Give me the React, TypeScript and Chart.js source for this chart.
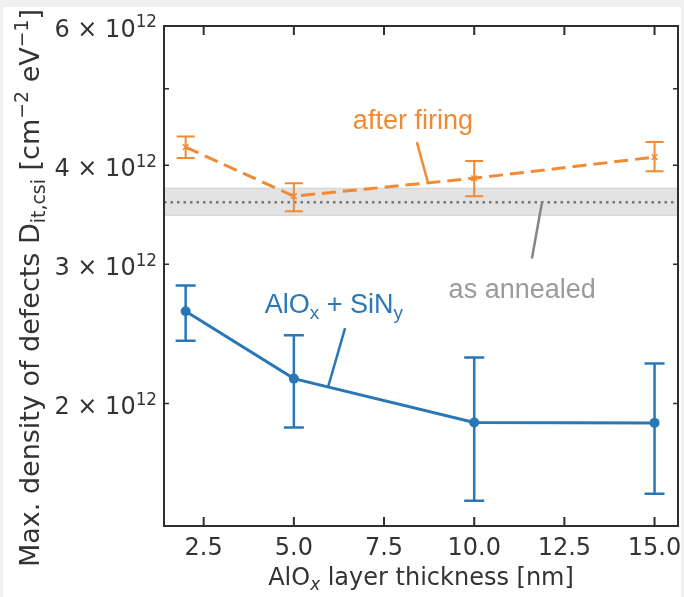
import React, { useEffect, useRef } from "react";
import { Chart, registerables } from "chart.js";

Chart.register(...registerables);

// AlOx layer thickness [nm]
const THICKNESS = [2, 5, 10, 15];

// AlOx + SiNy stack: maximum Dit with error range
const SINY_DIT = [2.615e12, 2.15e12, 1.892e12, 1.89e12];
const SINY_LOW = [2.4e12, 1.865e12, 1.507e12, 1.538e12];
const SINY_HIGH = [2.82e12, 2.44e12, 2.287e12, 2.247e12];

// after firing
const FIRED_DIT = [4.217e12, 3.656e12, 3.852e12, 4.097e12];
const FIRED_LOW = [4.085e12, 3.5e12, 3.656e12, 3.93e12];
const FIRED_HIGH = [4.35e12, 3.797e12, 4.05e12, 4.28e12];

// as annealed reference level and its spread
const ANNEALED_DIT = 3.593e12;
const ANNEALED_LOW = 3.458e12;
const ANNEALED_HIGH = 3.742e12;

// axis ticks
const X_TICKS = [2.5, 5, 7.5, 10, 12.5, 15];
const X_TICK_LABELS = ["2.5", "5.0", "7.5", "10.0", "12.5", "15.0"];
const Y_LABELED_TICKS = [2e12, 3e12, 4e12, 6e12];
const Y_TICK_MANTISSA = ["2", "3", "4", "6"];
const Y_MINOR_TICKS = [2e12, 3e12, 4e12, 5e12, 6e12];

const X_MIN = 1.4;
const X_MAX = 15.65;
const Y_MIN = 1.4e12;
const Y_MAX = 6e12;

const BLUE = "#2877b6";
const ORANGE = "#f28a34";
const GREY_TEXT = "#9b9b9b";
const AXIS = "#2e2e2e";

const DEJAVU = "'DejaVu Sans', sans-serif";
const ARIAL = "'Liberation Sans', Arial, sans-serif";

type Run = { t: string; sub?: boolean; sup?: boolean; italic?: boolean };

// callouts placed in data coordinates: text anchor (centre, baseline) and leader line
const CALLOUTS = [
  {
    runs: [{ t: "after firing" }] as Run[],
    color: ORANGE,
    lineColor: ORANGE,
    x: 8.3,
    y: 4.445e12,
    from: [8.41, 4.28e12],
    to: [8.72, 3.8e12],
  },
  {
    runs: [{ t: "as annealed" }] as Run[],
    color: GREY_TEXT,
    lineColor: "#858585",
    x: 11.33,
    y: 2.72e12,
    from: [11.6, 3.05e12],
    to: [11.88, ANNEALED_DIT],
  },
  {
    runs: [{ t: "AlO" }, { t: "x", sub: true }, { t: " + SiN" }, { t: "y", sub: true }] as Run[],
    color: BLUE,
    lineColor: BLUE,
    x: 6.11,
    y: 2.6e12,
    from: [6.42, 2.49e12],
    to: [5.95, 2.099e12],
  },
];

function drawRich(
  ctx: CanvasRenderingContext2D,
  runs: Run[],
  x: number,
  y: number,
  size: number,
  family: string,
  color: string,
  align: "left" | "center" | "right"
) {
  const parts = runs.map((r) => {
    const s = r.sub || r.sup ? size * 0.7 : size;
    const font = `${r.italic ? "italic " : ""}${s}px ${family}`;
    ctx.font = font;
    const w = ctx.measureText(r.t).width;
    const dy = r.sub ? size * 0.22 : r.sup ? -size * 0.4 : 0;
    return { r, font, w, dy };
  });
  const total = parts.reduce((a, p) => a + p.w, 0);
  let cx = align === "left" ? x : align === "center" ? x - total / 2 : x - total;
  ctx.fillStyle = color;
  ctx.textAlign = "left";
  ctx.textBaseline = "alphabetic";
  for (const p of parts) {
    ctx.font = p.font;
    ctx.fillText(p.r.t, cx, y + p.dy);
    cx += p.w;
  }
}

const decorations = {
  id: "decorations",
  beforeDraw(chart: any) {
    const { ctx, width, height } = chart;
    ctx.save();
    ctx.fillStyle = "#f0f0f0";
    ctx.fillRect(0, 0, width, height);
    ctx.fillStyle = "#ffffff";
    ctx.fillRect(3, 7, width - 6, height - 7);
    ctx.restore();
  },
  beforeDatasetsDraw(chart: any) {
    const { ctx, chartArea: a, scales } = chart;
    const xs = scales.x;
    const ys = scales.y;
    ctx.save();
    ctx.beginPath();
    ctx.rect(a.left, a.top, a.right - a.left, a.bottom - a.top);
    ctx.clip();

    // as-annealed spread band and mean level
    const bTop = ys.getPixelForValue(ANNEALED_HIGH);
    const bBot = ys.getPixelForValue(ANNEALED_LOW);
    ctx.fillStyle = "rgba(200,200,200,0.5)";
    ctx.fillRect(a.left, bTop, a.right - a.left, bBot - bTop);
    ctx.strokeStyle = "rgba(190,190,190,0.6)";
    ctx.lineWidth = 1;
    ctx.beginPath();
    ctx.moveTo(a.left, bTop);
    ctx.lineTo(a.right, bTop);
    ctx.moveTo(a.left, bBot);
    ctx.lineTo(a.right, bBot);
    ctx.stroke();

    const yMean = ys.getPixelForValue(ANNEALED_DIT);
    ctx.strokeStyle = "#767676";
    ctx.lineWidth = 2.5;
    ctx.setLineDash([2.5, 4]);
    ctx.beginPath();
    ctx.moveTo(a.left, yMean);
    ctx.lineTo(a.right, yMean);
    ctx.stroke();
    ctx.setLineDash([]);

    // error bars
    const bars = [
      { lo: SINY_LOW, hi: SINY_HIGH, color: BLUE, w: 2.5, cap: 10 },
      { lo: FIRED_LOW, hi: FIRED_HIGH, color: ORANGE, w: 2, cap: 9 },
    ];
    for (const b of bars) {
      ctx.strokeStyle = b.color;
      ctx.lineWidth = b.w;
      THICKNESS.forEach((t, i) => {
        const px = xs.getPixelForValue(t);
        const p1 = ys.getPixelForValue(b.lo[i]);
        const p2 = ys.getPixelForValue(b.hi[i]);
        ctx.beginPath();
        ctx.moveTo(px, p1);
        ctx.lineTo(px, p2);
        ctx.moveTo(px - b.cap, p1);
        ctx.lineTo(px + b.cap, p1);
        ctx.moveTo(px - b.cap, p2);
        ctx.lineTo(px + b.cap, p2);
        ctx.stroke();
      });
    }
    ctx.restore();
  },
  afterDraw(chart: any) {
    const { ctx, chartArea: a, scales } = chart;
    const xs = scales.x;
    const ys = scales.y;
    ctx.save();

    // callout leader lines and labels
    for (const c of CALLOUTS) {
      ctx.strokeStyle = c.lineColor;
      ctx.lineWidth = 2.5;
      ctx.beginPath();
      ctx.moveTo(xs.getPixelForValue(c.from[0]), ys.getPixelForValue(c.from[1]));
      ctx.lineTo(xs.getPixelForValue(c.to[0]), ys.getPixelForValue(c.to[1]));
      ctx.stroke();
      drawRich(ctx, c.runs, xs.getPixelForValue(c.x), ys.getPixelForValue(c.y), 27, ARIAL, c.color, "center");
    }

    // frame
    ctx.strokeStyle = AXIS;
    ctx.lineWidth = 2;
    ctx.strokeRect(a.left, a.top, a.right - a.left, a.bottom - a.top);

    // x ticks, top and bottom, pointing inwards
    ctx.lineWidth = 2;
    for (const t of X_TICKS) {
      const px = xs.getPixelForValue(t);
      ctx.beginPath();
      ctx.moveTo(px, a.bottom);
      ctx.lineTo(px, a.bottom - 9);
      ctx.moveTo(px, a.top);
      ctx.lineTo(px, a.top + 9);
      ctx.stroke();
    }
    // y ticks, left and right
    ctx.lineWidth = 1.5;
    for (const v of Y_MINOR_TICKS) {
      const py = ys.getPixelForValue(v);
      ctx.beginPath();
      ctx.moveTo(a.left, py);
      ctx.lineTo(a.left + 5, py);
      ctx.moveTo(a.right, py);
      ctx.lineTo(a.right - 5, py);
      ctx.stroke();
    }

    // tick labels
    X_TICKS.forEach((t, i) => {
      drawRich(ctx, [{ t: X_TICK_LABELS[i] }], xs.getPixelForValue(t), a.bottom + 29, 24, DEJAVU, "#333333", "center");
    });
    Y_LABELED_TICKS.forEach((v, i) => {
      drawRich(
        ctx,
        [{ t: `${Y_TICK_MANTISSA[i]} × 10` }, { t: "12", sup: true }],
        a.left - 7,
        ys.getPixelForValue(v) + 11,
        24,
        DEJAVU,
        "#333333",
        "right"
      );
    });

    // axis titles
    drawRich(
      ctx,
      [{ t: "AlO" }, { t: "x", sub: true, italic: true }, { t: " layer thickness [nm]" }],
      (a.left + a.right) / 2,
      585,
      24,
      DEJAVU,
      "#333333",
      "center"
    );
    ctx.translate(39, 288);
    ctx.rotate(-Math.PI / 2);
    drawRich(
      ctx,
      [
        { t: "Max. density of defects D" },
        { t: "it,csi", sub: true },
        { t: " [cm" },
        { t: "−2", sup: true },
        { t: " eV" },
        { t: "−1", sup: true },
        { t: "]" },
      ],
      0,
      0,
      27,
      DEJAVU,
      "#333333",
      "center"
    );
    ctx.restore();
  },
};

export default function App() {
  const ref = useRef<HTMLCanvasElement>(null);

  useEffect(() => {
    if (!ref.current) return;
    const chart = new Chart(ref.current, {
      type: "line",
      data: {
        datasets: [
          {
            label: "AlOx + SiNy",
            data: THICKNESS.map((t, i) => ({ x: t, y: SINY_DIT[i] })),
            borderColor: BLUE,
            backgroundColor: BLUE,
            borderWidth: 3,
            pointRadius: 5,
            pointBorderWidth: 0,
            pointBackgroundColor: BLUE,
          },
          {
            label: "after firing",
            data: THICKNESS.map((t, i) => ({ x: t, y: FIRED_DIT[i] })),
            borderColor: ORANGE,
            backgroundColor: ORANGE,
            borderWidth: 3,
            borderDash: [14, 7],
            pointStyle: "crossRot",
            pointRadius: 4,
            pointBorderWidth: 1.5,
            pointBorderColor: ORANGE,
          },
        ],
      },
      options: {
        animation: false,
        responsive: false,
        layout: { padding: { left: 164, top: 26, right: 6, bottom: 71 } },
        plugins: { legend: { display: false }, tooltip: { enabled: false } },
        scales: {
          x: { type: "linear", min: X_MIN, max: X_MAX, display: false },
          y: { type: "logarithmic", min: Y_MIN, max: Y_MAX, display: false },
        },
      },
      plugins: [decorations],
    });
    return () => chart.destroy();
  }, []);

  return (
    <div style={{ position: "absolute", left: 0, top: 0, width: 684, height: 597 }}>
      <canvas ref={ref} width={684} height={597} style={{ display: "block" }} />
    </div>
  );
}
